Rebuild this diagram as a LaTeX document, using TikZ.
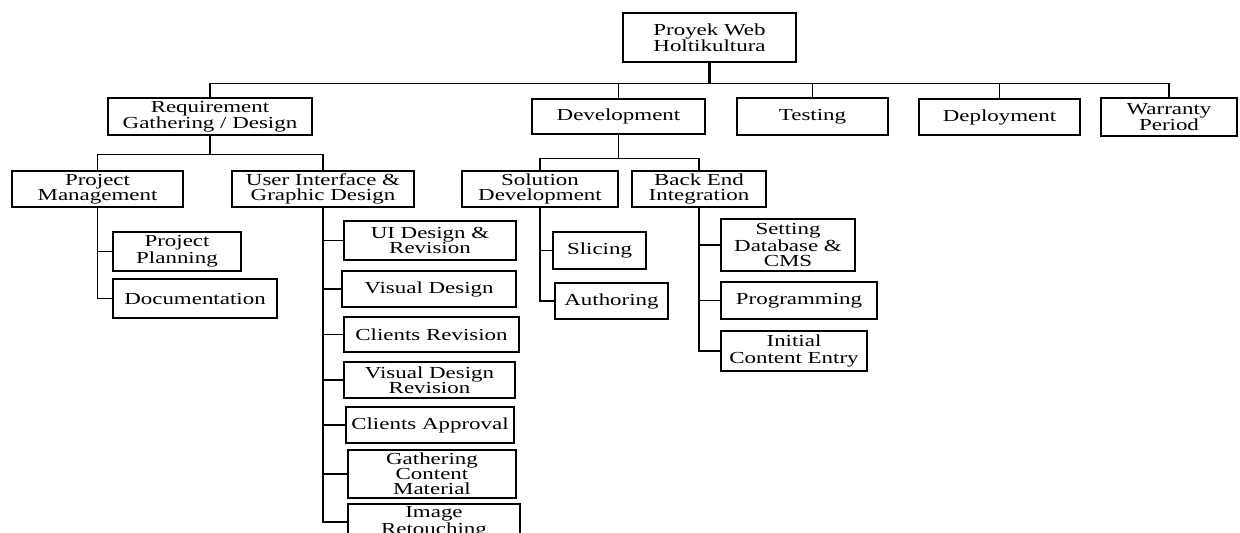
\documentclass[tikz,border=0pt]{standalone}
\usepackage{fontspec}
\setmainfont{Liberation Serif}[FakeStretch=1.36]
\begin{document}
\begin{tikzpicture}[x=0.02cm,y=-0.02cm,line width=0.6pt,
  box/.style 2 args={draw,align=center,inner sep=1pt,
    minimum width=#1*0.02cm,minimum height=#2*0.02cm,
    font=\fontsize{9.6}{9.4}\selectfont},
  tight/.style={font=\fontsize{9.6}{8.6}\selectfont}]
\useasboundingbox (0,0) rectangle (1240,533);
\node[box={173}{49}] (root) at (709.5,37.5) {Proyek Web\\Holtikultura};
\node[box={204}{37}] (req) at (210,116.5) {Requirement\\Gathering / Design};
\node[box={173}{35}] (dev) at (618.5,116.5) {Development};
\node[box={151}{37}] (test) at (812.5,116.5) {Testing};
\node[box={161}{36}] (depl) at (999.5,117) {Deployment};
\node[box={136}{38}] (warr) at (1169,117) {Warranty\\Period};
\node[box={171}{36},tight] (pm) at (97.5,189) {Project\\Management};
\node[box={182}{36},tight] (ui) at (323,189) {User Interface \&\\Graphic Design};
\node[box={156}{36},tight] (sol) at (540,189) {Solution\\Development};
\node[box={134}{36},tight] (be) at (699,189) {Back End\\Integration};
\node[box={128}{39},tight] (pp) at (177,251.5) {Project\\Planning};
\node[box={164}{39}] (doc) at (195,298.5) {Documentation};
\node[box={172}{39},tight] (uidr) at (430,240.5) {UI Design \&\\Revision};
\node[box={174}{36}] (vd) at (429,289) {Visual Design};
\node[box={175}{35}] (cr) at (431.5,334.5) {Clients Revision};
\node[box={171}{36},tight] (vdr) at (429.5,380) {Visual Design\\Revision};
\node[box={168}{36}] (ca) at (430,425) {Clients Approval};
\node[box={168}{48},tight] (gcm) at (432,474) {Gathering\\Content\\Material};
\node[box={172}{36},tight] (ir) at (434,522) {Image\\Retouching};
\node[box={93}{37}] (sl) at (599.5,250.5) {Slicing};
\node[box={113}{36}] (au) at (611.5,301) {Authoring};
\node[box={134}{52},tight] (sdb) at (788,245) {Setting\\Database \&\\CMS};
\node[box={156}{37}] (prog) at (799,300.5) {Programming};
\node[box={146}{40}] (ice) at (794,351) {Initial\\Content Entry};
\draw[line width=1.2pt] (root.south) -- ++(0,21);
\foreach \c in {req,dev,test,depl,warr}
  \draw (root.south) -- ++(0,21) -| (\c.north);
\foreach \c in {pm,ui}
  \draw (req.south) -- ++(0,19) -| (\c.north);
\foreach \c in {sol,be}
  \draw (dev.south) -- ++(0,24) -| (\c.north);
\foreach \c in {pp,doc}
  \draw (pm.south) |- (\c.west);
\foreach \c in {uidr,vd,cr,vdr,ca,gcm,ir}
  \draw (ui.south) |- (\c.west);
\foreach \c in {sl,au}
  \draw (sol.south) |- (\c.west);
\foreach \c in {sdb,prog,ice}
  \draw (be.south) |- (\c.west);
\end{tikzpicture}
\end{document}
